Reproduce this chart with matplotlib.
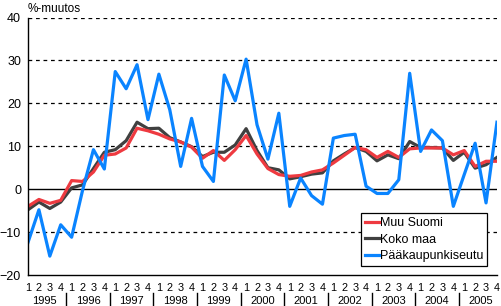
import matplotlib.pyplot as plt
from matplotlib.lines import Line2D

plt.rcParams['font.family'] = ['Liberation Sans', 'DejaVu Sans']

years = [str(y) for y in range(1995, 2006)]
quarters = ['1', '2', '3', '4'] * len(years)

# %-change, quarters 1995Q1 .. 2005Q4
muu_suomi = [-4.0, -2.4, -3.3, -2.6, 2.0, 1.8, 4.0, 7.9,
             8.2, 9.6, 14.2, 13.6, 12.8, 11.7, 11.0, 9.8,
             7.2, 9.0, 6.7, 9.2, 12.5, 8.2, 4.8, 3.4,
             3.0, 3.2, 4.0, 4.5, 6.1, 7.9, 9.7, 9.2,
             7.4, 8.8, 7.4, 9.4, 9.6, 9.6, 9.6, 8.0,
             9.0, 5.3, 6.5, 6.5]
koko_maa = [-4.8, -3.0, -4.5, -3.0, 0.3, 1.0, 4.8, 8.6,
            9.2, 11.3, 15.6, 14.1, 14.2, 12.0, 11.0, 9.9,
            7.6, 8.6, 8.6, 10.3, 14.1, 9.0, 5.0, 4.5,
            2.4, 2.9, 3.5, 3.8, 6.6, 8.2, 9.7, 8.8,
            6.6, 8.0, 7.1, 11.1, 9.7, 9.7, 9.6, 6.7,
            8.6, 4.9, 5.7, 7.4]
paakaupunkiseutu = [-12.4, -4.8, -15.6, -8.3, -11.2, -0.3, 9.2, 4.7,
                    27.4, 23.4, 29.0, 16.2, 26.8, 18.5, 5.3, 16.5,
                    5.3, 1.8, 26.6, 20.6, 30.3, 15.0, 7.0, 17.7,
                    -4.0, 2.6, -1.5, -3.5, 11.9, 12.5, 12.8, 0.7,
                    -1.0, -1.0, 2.2, 27.0, 8.8, 13.8, 11.3, -4.0,
                    3.4, 10.7, -3.2, 15.6]

x = list(range(len(quarters)))

fig = plt.figure(figsize=(5.01, 3.06), dpi=100)
ax = fig.add_axes([0.0559, 0.1013, 0.936, 0.8415])

lg, = ax.plot(x, koko_maa, color='#404040', lw=2.3, label='Koko maa')
lr, = ax.plot(x, muu_suomi, color='#ee3a40', lw=2.3, label='Muu Suomi')
lb, = ax.plot(x, paakaupunkiseutu, color='#0a84ff', lw=2.3, label='Pääkaupunkiseutu')

ax.set_xlim(0, len(x) - 1)
ax.set_ylim(-20, 40)
ax.set_yticks(range(-20, 41, 10))
for v in [-10, 10, 20, 30, 40]:
    ax.axhline(v, color='black', lw=0.9, ls=(0, (3, 3)), zorder=0)
ax.axhline(0, color='black', lw=1.0, zorder=0)

for s in ['top', 'right']:
    ax.spines[s].set_visible(False)
ax.spines['left'].set_linewidth(1.0)
ax.spines['bottom'].set_linewidth(1.0)

ax.tick_params(axis='y', length=0, labelsize=9, pad=5)
ax.set_xticks(x)
ax.set_xticklabels(quarters)
ax.tick_params(axis='x', length=0, labelsize=7.8, pad=5.5)

tr = ax.get_xaxis_transform()
for k, yr in enumerate(years):
    ax.text(4 * k + 1.5, -0.1, yr, transform=tr, ha='center', va='center', fontsize=8)
    if k > 0:
        ax.add_line(Line2D([4 * k - 0.5] * 2, [-0.07, -0.12], transform=tr,
                           color='black', lw=1.0, clip_on=False))

fig.text(0.056, 0.972, '%-muutos', ha='left', va='center', fontsize=8.5)

leg = ax.legend(handles=[lr, lg, lb], loc='lower right', bbox_to_anchor=(0.979, 0.036),
                borderaxespad=0, fontsize=9, handlelength=1.1, handletextpad=0.1,
                labelspacing=0.35, borderpad=0.3, fancybox=False, framealpha=1,
                edgecolor='black')
leg.get_frame().set_linewidth(0.9)

fig.savefig('out.png', dpi=100)
